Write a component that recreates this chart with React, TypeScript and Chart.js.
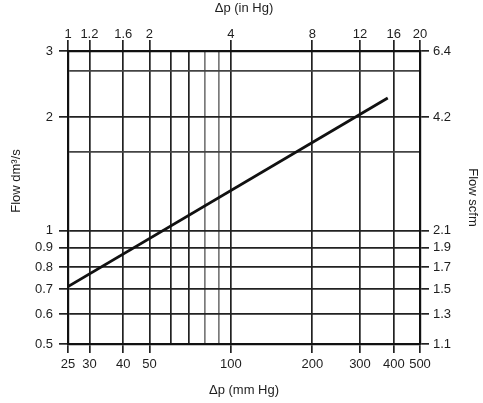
import React, { useEffect, useRef } from "react";
import { Chart, registerables } from "chart.js";

Chart.register(...registerables);

// Δp in mm Hg (bottom axis) with labelled ticks; top axis relabels the same positions in in Hg
const xTicksMm = [25, 30, 40, 50, 100, 200, 300, 400, 500];
const xTicksInHg = ["1", "1.2", "1.6", "2", "4", "8", "12", "16", "20"];
const xExtraGrid = [60, 70, 80, 90];

// Flow in dm³/s (left axis), right axis relabels the same positions in scfm
const yTicksDm3 = [0.5, 0.6, 0.7, 0.8, 0.9, 1, 2, 3];
const yTicksScfm = ["1.1", "1.3", "1.5", "1.7", "1.9", "2.1", "4.2", "6.4"];
const yExtraGrid = [1.62, 2.65];

// curve: flow vs Δp
const curveDp = [25, 380];
const curveFlow = [0.71, 2.25];

const FONT = "'Liberation Sans', Arial, Helvetica, sans-serif";
const TEXT = "#1e1e1e";
const DARK = "#222";

export default function App() {
  const ref = useRef<HTMLCanvasElement | null>(null);

  useEffect(() => {
    if (!ref.current) return;
    const xAll = [...xTicksMm, ...xExtraGrid].sort((a, b) => a - b);
    const yAll = [...yTicksDm3, ...yExtraGrid].sort((a, b) => a - b);
    const isLabX = (v: number) => xTicksMm.includes(v);
    const isLabY = (v: number) => yTicksDm3.includes(v);
    const xGridColor = (v: number) => (v === 80 || v === 90 ? "#7a7a7a" : DARK);
    const yGridColor = (v: number) => (yExtraGrid.includes(v) ? "#444" : DARK);

    const leftTitle = {
      id: "leftTitle",
      afterDraw(chart: any) {
        const c = chart.ctx;
        c.save();
        c.translate(16, 181);
        c.rotate(-Math.PI / 2);
        c.font = `13px ${FONT}`;
        c.fillStyle = TEXT;
        c.textAlign = "center";
        c.textBaseline = "middle";
        c.fillText("Flow dm³/s", 0, 0);
        c.restore();
      },
    };

    const chart = new Chart(ref.current, {
      type: "line",
      data: {
        datasets: [
          {
            data: curveDp.map((x, i) => ({ x, y: curveFlow[i] })),
            borderColor: "#111",
            borderWidth: 2.8,
            pointRadius: 0,
            xAxisID: "x",
            yAxisID: "y",
          },
        ],
      },
      plugins: [leftTitle],
      options: {
        animation: false,
        responsive: false,
        maintainAspectRatio: false,
        layout: { padding: 0 },
        plugins: { legend: { display: false }, tooltip: { enabled: false } },
        font: { family: FONT, size: 13 },
        color: TEXT,
        scales: {
          x: {
            type: "logarithmic",
            position: "bottom",
            min: 25,
            max: 500,
            afterFit: (s: any) => { s.height = 59; },
            afterBuildTicks: (s: any) => { s.ticks = xAll.map((v) => ({ value: v })); },
            ticks: {
              autoSkip: false,
              maxRotation: 0,
              padding: 4,
              color: TEXT,
              font: { family: FONT, size: 13 },
              callback: (v: any) => (isLabX(Number(v)) ? String(v) : ""),
            },
            grid: {
              color: (ctx: any) => xGridColor(ctx.tick?.value),
              lineWidth: 1.7,
              tickLength: 9,
              tickColor: (ctx: any) => (isLabX(ctx.tick?.value) ? DARK : "rgba(0,0,0,0)"),
            },
            border: { display: true, color: "#111", width: 2.2 },
            title: {
              display: true,
              text: "Δp (mm Hg)",
              color: TEXT,
              font: { family: FONT, size: 13 },
              padding: { top: 0, bottom: 5 },
            },
          },
          x2: {
            type: "logarithmic",
            position: "top",
            min: 25,
            max: 500,
            afterFit: (s: any) => { s.height = 51; },
            afterBuildTicks: (s: any) => { s.ticks = xTicksMm.map((v) => ({ value: v })); },
            ticks: {
              autoSkip: false,
              maxRotation: 0,
              padding: -2,
              color: TEXT,
              font: { family: FONT, size: 13 },
              callback: (v: any) => {
                const i = xTicksMm.indexOf(Number(v));
                return i >= 0 ? xTicksInHg[i] : "";
              },
            },
            grid: { drawOnChartArea: false, color: DARK, lineWidth: 1.7, tickLength: 11 },
            border: { display: true, color: "#111", width: 2.2 },
            title: {
              display: true,
              text: "Δp (in Hg)",
              color: TEXT,
              font: { family: FONT, size: 13 },
              padding: { top: 1, bottom: 0 },
            },
          },
          y: {
            type: "logarithmic",
            position: "left",
            min: 0.5,
            max: 3,
            afterFit: (s: any) => { s.width = 68; },
            afterBuildTicks: (s: any) => { s.ticks = yAll.map((v) => ({ value: v })); },
            ticks: {
              autoSkip: false,
              padding: 6,
              color: TEXT,
              font: { family: FONT, size: 13 },
              callback: (v: any) => (isLabY(Number(v)) ? String(v) : ""),
            },
            grid: {
              color: (ctx: any) => yGridColor(ctx.tick?.value),
              lineWidth: 1.7,
              tickLength: 9,
              tickColor: (ctx: any) => (isLabY(ctx.tick?.value) ? DARK : "rgba(0,0,0,0)"),
            },
            border: { display: true, color: "#111", width: 2.2 },
          },
          y2: {
            type: "logarithmic",
            position: "right",
            min: 0.5,
            max: 3,
            afterFit: (s: any) => { s.width = 63; },
            afterBuildTicks: (s: any) => { s.ticks = yTicksDm3.map((v) => ({ value: v })); },
            ticks: {
              autoSkip: false,
              padding: 4,
              color: TEXT,
              font: { family: FONT, size: 13 },
              callback: (v: any) => {
                const i = yTicksDm3.indexOf(Number(v));
                return i >= 0 ? yTicksScfm[i] : "";
              },
            },
            grid: { drawOnChartArea: false, color: DARK, lineWidth: 1.7, tickLength: 9 },
            border: { display: true, color: "#111", width: 2.2 },
            title: {
              display: true,
              text: "Flow scfm",
              color: TEXT,
              font: { family: FONT, size: 13 },
              padding: { top: 3, bottom: 0 },
            },
          },
        },
      },
    } as any);
    return () => chart.destroy();
  }, []);

  return (
    <div style={{ position: "absolute", left: 0, top: 0, width: 483, height: 403, background: "#fff" }}>
      <canvas ref={ref} width={483} height={403} style={{ width: 483, height: 403, display: "block" }} />
    </div>
  );
}
